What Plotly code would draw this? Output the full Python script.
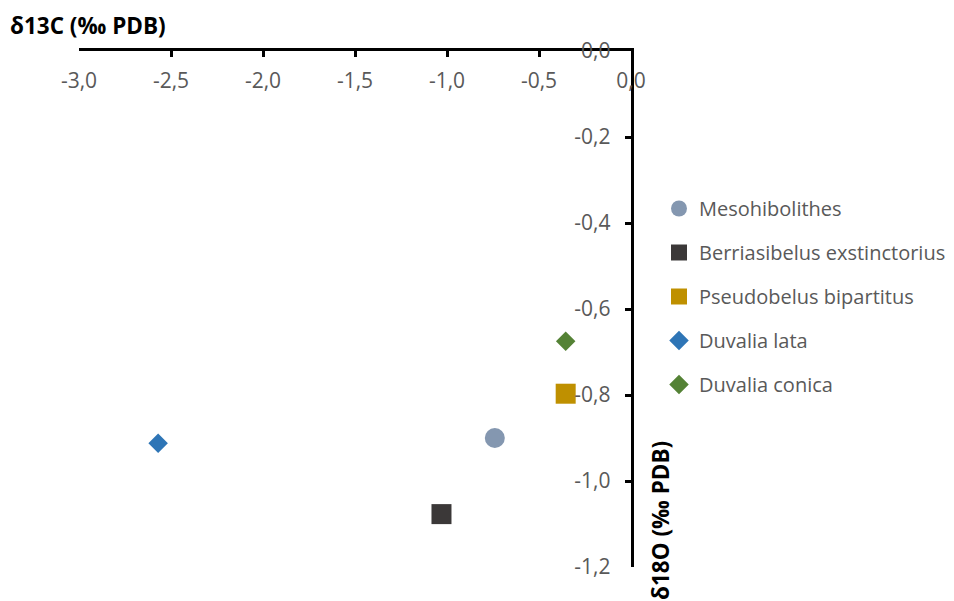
import plotly.graph_objects as go

species = ["Mesohibolithes", "Berriasibelus exstinctorius", "Pseudobelus bipartitus",
           "Duvalia lata", "Duvalia conica"]
d13c = [-0.74, -1.03, -0.355, -2.57, -0.355]
d18o = [-0.90, -1.077, -0.797, -0.912, -0.675]
symbols = ["circle", "square", "square", "diamond", "diamond"]
sizes = [20, 20, 20, 15, 15]
colors = ["#8497B0", "#3B3838", "#BF9000", "#2E75B6", "#548235"]

x_ticks = [-3.0, -2.5, -2.0, -1.5, -1.0, -0.5, 0.0]
x_labels = ["-3,0", "-2,5", "-2,0", "-1,5", "-1,0", "-0,5", "0,0"]
y_ticks = [0.0, -0.2, -0.4, -0.6, -0.8, -1.0, -1.2]
y_labels = ["0,0", "-0,2", "-0,4", "-0,6", "-0,8", "-1,0", "-1,2"]

W, H = 946, 593
L, T, PW, PH = 71, 43, 552, 516

fig = go.Figure()
for i, name in enumerate(species):
    fig.add_trace(go.Scatter(
        x=[d13c[i]], y=[d18o[i]], mode="markers", name=name, legendgroup=name,
        marker=dict(symbol=symbols[i], size=sizes[i], color=colors[i], line=dict(width=0)),
    ))

tickfont = dict(family="Open Sans", size=21, color="#595959")
fig.update_layout(
    width=W, height=H,
    margin=dict(l=L, r=W - L - PW, t=T, b=H - T - PH, autoexpand=False),
    paper_bgcolor="white", plot_bgcolor="white",
    separators=", ",
    font=dict(family="Open Sans", color="#595959"),
    showlegend=True,
    legend=dict(xref="paper", yref="paper", x=(651 - L) / PW, xanchor="left",
                y=(T + PH - 181) / PH, yanchor="top",
                font=dict(family="Open Sans", size=20, color="#595959"),
                tracegroupgap=15, traceorder="grouped", bgcolor="rgba(0,0,0,0)"),
    xaxis=dict(side="top", range=[-3, 0], tickvals=x_ticks, ticktext=x_labels,
               ticks="inside", ticklen=6, tickwidth=2.5, tickcolor="black",
               ticklabelposition="inside", ticklabeloverflow="allow",
               ticklabelstandoff=18, automargin=False,
               showline=True, linecolor="black", linewidth=2.5,
               showgrid=False, zeroline=False, tickfont=tickfont),
    yaxis=dict(side="right", range=[-1.2, 0], tickvals=y_ticks, ticktext=y_labels,
               ticks="inside", ticklen=6, tickwidth=2.5, tickcolor="black",
               ticklabelposition="inside", ticklabeloverflow="allow",
               ticklabelstandoff=16, automargin=False,
               showline=True, linecolor="black", linewidth=2.5,
               showgrid=False, zeroline=False, tickfont=tickfont),
    annotations=[
        dict(text="<b>δ13C (‰ PDB)</b>", xref="paper", yref="paper",
             x=(0 - L) / PW, y=(T + PH - 18) / PH, xanchor="left", yanchor="middle",
             showarrow=False, font=dict(family="Open Sans", size=22.5, color="black")),
        dict(text="<b>δ18O (‰ PDB)</b>", xref="paper", yref="paper",
             x=(652 - L) / PW, y=(T + PH - 513) / PH, xanchor="center", yanchor="middle",
             showarrow=False, textangle=-90,
             font=dict(family="Open Sans", size=22.5, color="black")),
    ],
)

fig.write_html("out.html")
